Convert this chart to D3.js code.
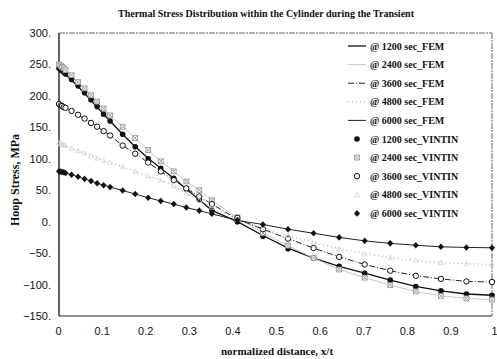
<!DOCTYPE html>
<html>
<head>
<meta charset="utf-8">
<script src="https://cdn.jsdelivr.net/npm/d3@7/dist/d3.min.js"></script>
<style>
  body { margin: 0; background: #fff; }
  .tick-label { font-family: "Liberation Sans", Arial, sans-serif; font-size: 11px; fill: #111; }
  .serif-b { font-family: "Liberation Serif", "Times New Roman", serif; font-weight: bold; fill: #111; }
</style>
</head>
<body>
<svg id="chart" width="497" height="359"></svg>
<script>
// normalized distance of the solution points
var xPos = [0, 0.004, 0.007, 0.011, 0.015, 0.029, 0.044, 0.059, 0.074, 0.088, 0.103, 0.118,
            0.147, 0.176, 0.206, 0.235, 0.265, 0.294, 0.324, 0.353,
            0.412, 0.471, 0.529, 0.588, 0.647, 0.706, 0.765, 0.824, 0.882, 0.941, 1.0];

// FEM hoop stress, MPa
var fem1200 = [243, 241, 239, 237, 234, 225, 215, 204, 193, 182, 171, 160,
               139, 119, 101, 85, 69, 52, 35, 18,
               0, -22, -42, -58, -71, -82, -93, -103, -110, -115, -117];
var fem2400 = [249, 247, 245, 243, 240, 232, 222, 212, 201, 191, 180, 169,
               151, 133, 114, 96, 80, 64, 50, 34,
               6, -18, -38, -58, -76, -89, -101, -111, -118, -122, -124];
var fem3600 = [186, 185, 184, 182, 180, 175, 169, 164, 157, 151, 144, 137,
               121, 108, 94, 80, 66, 53, 40, 28,
               4, -12, -27, -42, -56, -68, -78, -86, -91, -95, -96];
var fem4800 = [125, 124, 123, 122, 121, 117, 113, 109, 105, 101, 97, 94,
               87, 80, 73, 66, 57, 45, 34, 23,
               4, -10, -22, -33, -43, -51, -57, -62, -65, -67, -68];
var fem6000 = [80, 79.5, 79, 78.5, 77.5, 74.5, 71.5, 68, 64.5, 61, 58, 55,
               49.5, 44, 38, 33, 28, 22.5, 17.5, 12.5,
               2, -4.5, -12, -18.5, -25, -30.5, -34.5, -37.5, -40, -41, -41.5];

// VINTIN hoop stress, MPa
var vin1200 = [244, 242, 240, 238, 235, 226, 216, 205, 194, 183, 171, 160,
               139, 119, 100, 85, 69, 52, 35, 18,
               0, -23, -43, -58, -71, -82, -93, -103, -110, -115, -117];
var vin2400 = [250, 248, 246, 244, 241, 233, 222, 212, 201, 191, 180, 169,
               151, 133, 114, 96, 80, 64, 50, 34,
               7, -18, -38, -58, -76, -89, -101, -111, -118, -122, -124];
var vin3600 = [187, 185, 184, 182, 181, 176, 170, 164, 157, 151, 144, 137,
               121, 108, 94, 80, 66, 53, 40, 28,
               6, -12, -27, -42, -56, -68, -78, -86, -91, -95, -96];
var vin4800 = [125, 124, 123, 122, 121, 117, 113, 109, 105, 101, 97, 94,
               87, 80, 73, 66, 57, 45, 34, 23,
               4, -10, -22, -33, -43, -51, -57, -62, -65, -67, -68];
var vin6000 = [80, 79.5, 79, 78.5, 77.5, 74.5, 71.5, 68, 64.5, 61, 58, 55,
               49.5, 44, 38, 33, 28, 22.5, 17.5, 12.5,
               2.5, -4.5, -12, -18.5, -25, -30.5, -34.5, -37.5, -40, -41, -41.5];

var times = ["1200", "2400", "3600", "4800", "6000"];
var yTicks = [300, 250, 200, 150, 100, 50, 0, -50, -100, -150];
var xTicks = [0, 0.1, 0.2, 0.3, 0.4, 0.5, 0.6, 0.7, 0.8, 0.9, 1];

var femSeries = [fem1200, fem2400, fem3600, fem4800, fem6000];
var vinSeries = [vin1200, vin2400, vin3600, vin4800, vin6000];

var svg = d3.select("#chart");
// (window.top is read-only, so no plain "top" here)
var plotL = 59, plotR = 492, plotT = 33, plotB = 316;

var x = d3.scaleLinear().domain([0, 1]).range([plotL, plotR]);
var y = d3.scaleLinear().domain([-150, 300]).range([plotB, plotT]);
// excel spreads the category labels a bit wider than the plot
var xLab = d3.scaleLinear().domain([0, 1]).range([58, 494]);

// frame
svg.append("line").attr("x1", plotL).attr("x2", plotR).attr("y1", plotT).attr("y2", plotT)
    .attr("stroke", "#666").attr("stroke-dasharray", "6,1,2,1");
svg.append("line").attr("x1", plotR).attr("x2", plotR).attr("y1", plotT).attr("y2", plotB)
    .attr("stroke", "#666").attr("stroke-dasharray", "6,1,2,1");
svg.append("line").attr("x1", plotL).attr("x2", plotR).attr("y1", plotB).attr("y2", plotB)
    .attr("stroke", "#222").attr("stroke-width", 1.2);
svg.append("line").attr("x1", plotL).attr("x2", plotL).attr("y1", plotT).attr("y2", plotB)
    .attr("stroke", "#111").attr("stroke-width", 1.3);

// y axis labels
var yAxis = d3.axisLeft(y).tickValues(yTicks).tickSize(0).tickPadding(8)
    .tickFormat(function (d) { return (d < 0 ? "\u2212" + (-d) : d) + "."; });
var gy = svg.append("g").attr("transform", "translate(" + plotL + ",0)").call(yAxis);
gy.select(".domain").remove();
gy.selectAll("text").attr("class", "tick-label");
gy.attr("font-family", null).attr("font-size", null);

// x axis labels
var xAxis = d3.axisBottom(xLab).tickValues(xTicks).tickSize(0).tickPadding(11)
    .tickFormat(function (d) { return d; });
var gx = svg.append("g").attr("transform", "translate(0," + plotB + ")").call(xAxis);
gx.select(".domain").remove();
gx.selectAll("text").attr("class", "tick-label");
gx.attr("font-family", null).attr("font-size", null);

// titles
svg.append("text").attr("class", "serif-b").attr("x", 266).attr("y", 17)
    .attr("text-anchor", "middle").attr("font-size", 10).text("Thermal Stress Distribution within the Cylinder during the Transient");
svg.append("text").attr("class", "serif-b").attr("transform", "translate(19,180) rotate(-90)")
    .attr("text-anchor", "middle").attr("font-size", 12).text("Hoop Stress, MPa");
svg.append("text").attr("class", "serif-b").attr("x", 277).attr("y", 355)
    .attr("text-anchor", "middle").attr("font-size", 11).text("normalized distance, x/t");

// line styles for the FEM curves
var femStroke = ["#111", "#c8c8c8", "#222", "#a8a8a8", "#222"];
var femDash = [null, null, "6,2,1,2", "1,3", null];
var femWidth = [1.3, 1, 1, 1.1, 1];

var line = d3.line()
    .x(function (d, i) { return x(xPos[i]); })
    .y(function (d) { return y(d); });

svg.append("g").selectAll("path")
    .data(femSeries)
    .enter()
    .append("path")
    .attr("d", line)
    .attr("fill", "none")
    .attr("stroke", function (d, i) { return femStroke[i]; })
    .attr("stroke-width", function (d, i) { return femWidth[i]; })
    .attr("stroke-dasharray", function (d, i) { return femDash[i]; });

// one marker for each VINTIN series
function drawMarker(g, k) {
    if (k == 0) {
        g.append("circle").attr("r", 2.8).attr("fill", "#111");
    } else if (k == 1) {
        g.append("rect").attr("x", -2.4).attr("y", -2.4).attr("width", 4.8).attr("height", 4.8)
            .attr("fill", "#fff").attr("stroke", "#999").attr("stroke-width", 0.9);
        g.append("path").attr("d", "M-2.4,-2.4L2.4,2.4M2.4,-2.4L-2.4,2.4")
            .attr("stroke", "#999").attr("stroke-width", 0.9);
    } else if (k == 2) {
        g.append("circle").attr("r", 2.7).attr("fill", "#fff").attr("stroke", "#111").attr("stroke-width", 1);
    } else if (k == 3) {
        g.append("path").attr("d", "M0,-2.5L2.4,2L-2.4,2Z").attr("fill", "none")
            .attr("stroke", "#d4d4d4").attr("stroke-width", 0.8);
    } else {
        g.append("path").attr("d", "M0,-3.3L3,0L0,3.3L-3,0Z").attr("fill", "#111");
    }
}

// series order as excel stacks them
[0, 1, 2, 3, 4].forEach(function (k) {
    var grp = svg.append("g");
    grp.selectAll("g")
        .data(vinSeries[k])
        .enter()
        .append("g")
        .attr("transform", function (d, i) { return "translate(" + x(xPos[i]) + "," + y(d) + ")"; })
        .each(function () { drawMarker(d3.select(this), k); });
});

// legend
var legY = 46, legStep = 18.6;
var leg = svg.append("g");
times.forEach(function (t, i) {
    var yy = legY + i * legStep;
    leg.append("line").attr("x1", 348).attr("x2", 366).attr("y1", yy).attr("y2", yy)
        .attr("stroke", femStroke[i]).attr("stroke-width", femWidth[i])
        .attr("stroke-dasharray", femDash[i]);
    leg.append("text").attr("class", "serif-b").attr("x", 370).attr("y", yy + 3.5)
        .attr("font-size", 10).text("@ " + t + " sec_FEM");
});
times.forEach(function (t, i) {
    var yy = legY + (i + 5) * legStep;
    var m = leg.append("g").attr("transform", "translate(357," + yy + ")");
    drawMarker(m, i);
    leg.append("text").attr("class", "serif-b").attr("x", 370).attr("y", yy + 3.5)
        .attr("font-size", 10).text("@ " + t + " sec_VINTIN");
});
</script>
</body>
</html>
